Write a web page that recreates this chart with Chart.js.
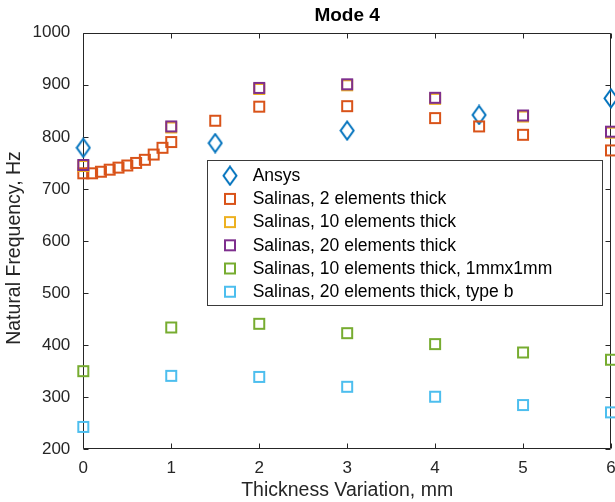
<!DOCTYPE html>
<html>
<head>
<meta charset="utf-8">
<script src="https://cdn.jsdelivr.net/npm/chart.js@4.4.1/dist/chart.umd.min.js"></script>
<style>
  html, body { margin: 0; padding: 0; background: #fff; }
  canvas { display: block; }
</style>
</head>
<body>
<canvas id="c" width="615" height="502"></canvas>
<script>
// ---- data ----
const titleText = 'Mode 4';
const xLabel = 'Thickness Variation, mm';
const yLabel = 'Natural Frequency, Hz';

const seriesLabels = [
  'Ansys',
  'Salinas, 2 elements thick',
  'Salinas, 10 elements thick',
  'Salinas, 20 elements thick',
  'Salinas, 10 elements thick, 1mmx1mm',
  'Salinas, 20 elements thick, type b'
];

const ansysX = [0, 1.5, 3, 4.5, 6];
const ansysY = [779, 788, 812, 842, 874];

const sal2X = [0, 0.1, 0.2, 0.3, 0.4, 0.5, 0.6, 0.7, 0.8, 0.9, 1, 1.5, 2, 3, 4, 4.5, 5, 6];
const sal2Y = [730, 730, 733, 737, 741, 745, 750, 756, 766, 779, 790, 831, 858, 859, 836, 820, 804, 774];

const sal10X = [0, 1, 2, 3, 4, 5, 6];
const sal10Y = [744, 818, 892, 899, 873, 839, 808];

const sal20X = [0, 1, 2, 3, 4, 5, 6];
const sal20Y = [746, 820, 894, 901, 875, 841, 810];

const sal10mmX = [0, 1, 2, 3, 4, 5, 6];
const sal10mmY = [350, 434, 441, 423, 402, 386, 372];

const sal20bX = [0, 1, 2, 3, 4, 5, 6];
const sal20bY = [243, 341, 339, 320, 301, 285, 271];

const xTicks = [0, 1, 2, 3, 4, 5, 6];
const xTickLabels = ['0', '1', '2', '3', '4', '5', '6'];
const yTicks = [200, 300, 400, 500, 600, 700, 800, 900, 1000];
const yTickLabels = ['200', '300', '400', '500', '600', '700', '800', '900', '1000'];

// ---- styling ----
const FONT = '"Liberation Sans", Arial, Helvetica, sans-serif';
const AXIS_COLOR = '#262626';
const colors = ['#0072BD', '#D95319', '#EDB120', '#7E2F8E', '#77AC30', '#4DBEEE'];

function squareMarker(color) {
  const c = document.createElement('canvas');
  c.width = 14; c.height = 14;
  const g = c.getContext('2d');
  g.strokeStyle = color; g.lineWidth = 2;
  g.strokeRect(2, 2, 10, 10);
  return c;
}
function diamondMarker(color) {
  const c = document.createElement('canvas');
  c.width = 16; c.height = 21;
  const g = c.getContext('2d');
  g.strokeStyle = color; g.lineWidth = 2; g.lineJoin = 'miter';
  g.beginPath();
  g.moveTo(8, 1.5); g.lineTo(14.5, 10.5); g.lineTo(8, 19.5); g.lineTo(1.5, 10.5);
  g.closePath(); g.stroke();
  return c;
}

const pairs = (xs, ys) => xs.map((x, i) => ({x, y: ys[i]}));
const seriesData = [
  pairs(ansysX, ansysY),
  pairs(sal2X, sal2Y),
  pairs(sal10X, sal10Y),
  pairs(sal20X, sal20Y),
  pairs(sal10mmX, sal10mmY),
  pairs(sal20bX, sal20bY)
];

const datasets = seriesData.map((d, i) => ({
  label: seriesLabels[i],
  data: d,
  pointStyle: i === 0 ? diamondMarker(colors[i]) : squareMarker(colors[i]),
  pointRadius: 7,
  borderColor: colors[i],
  backgroundColor: colors[i],
  showLine: false,
  clip: false,
  order: seriesData.length - i   // later series drawn on top, like the original
}));

// Box, inward ticks on all four sides
const boxPlugin = {
  id: 'box',
  beforeDatasetsDraw(chart) {
    const {ctx, chartArea: a, scales: {x, y}} = chart;
    ctx.save();
    ctx.strokeStyle = AXIS_COLOR;
    ctx.lineWidth = 1;
    const L = Math.round(a.left) + 0.5, R = Math.round(a.right) - 0.5;
    const T = Math.round(a.top) + 0.5, B = Math.round(a.bottom) - 0.5;
    ctx.beginPath();
    ctx.rect(L, T, R - L, B - T);
    const tl = 5;
    xTicks.forEach(v => {
      const px = Math.round(x.getPixelForValue(v)) + 0.5;
      ctx.moveTo(px, B); ctx.lineTo(px, B - tl);
      ctx.moveTo(px, T); ctx.lineTo(px, T + tl);
    });
    yTicks.forEach(v => {
      const py = Math.round(y.getPixelForValue(v)) + 0.5;
      ctx.moveTo(L, py); ctx.lineTo(L + tl, py);
      ctx.moveTo(R, py); ctx.lineTo(R - tl, py);
    });
    ctx.stroke();

    // axis labels
    ctx.fillStyle = AXIS_COLOR;
    ctx.font = '19.5px ' + FONT;
    ctx.textAlign = 'center';
    ctx.textBaseline = 'middle';
    ctx.fillText(xLabel, (a.left + a.right) / 2, 490.5);
    ctx.translate(15, 248);
    ctx.rotate(-Math.PI / 2);
    ctx.fillText(yLabel, 0, 0);
    ctx.restore();
  }
};

// Legend box inside the plot area
const legendPlugin = {
  id: 'innerLegend',
  afterDatasetsDraw(chart) {
    const {ctx} = chart;
    const left = 207.5, right = 602.5, top = 160.5, bottom = 305.5;
    ctx.save();
    ctx.fillStyle = '#fff';
    ctx.fillRect(left, top, right - left, bottom - top);
    ctx.strokeStyle = '#3a3a3a';
    ctx.lineWidth = 1;
    ctx.strokeRect(left, top, right - left, bottom - top);
    ctx.font = '17.5px ' + FONT;
    ctx.textBaseline = 'middle';
    ctx.textAlign = 'left';
    ctx.fillStyle = '#000';
    chart.data.datasets.forEach((ds, i) => {
      const cy = 175.7 + i * 23.2;
      const img = ds.pointStyle;
      ctx.drawImage(img, 230 - img.width / 2, cy - img.height / 2);
      ctx.fillText(ds.label, 252.7, cy + 0.5);
    });
    ctx.restore();
  }
};

new Chart(document.getElementById('c'), {
  type: 'scatter',
  data: { datasets },
  options: {
    responsive: false,
    animation: false,
    devicePixelRatio: 1,
    layout: { autoPadding: false, padding: { left: 0, right: 4, top: 0, bottom: 0 } },
    plugins: {
      legend: { display: false },
      tooltip: { enabled: false },
      title: {
        display: true, text: titleText, color: '#000', fullSize: false,
        font: { family: FONT, size: 19, weight: 'bold' },
        padding: { top: 4, bottom: 5.9 }
      }
    },
    scales: {
      x: {
        type: 'linear', min: 0, max: 6,
        afterBuildTicks(s) { s.ticks = xTicks.map(v => ({value: v})); },
        ticks: { padding: 9, color: AXIS_COLOR, font: { family: FONT, size: 17 }, maxRotation: 0,
                 callback: (v, i) => xTickLabels[i] },
        grid: { display: false, drawTicks: false },
        border: { display: false },
        title: { display: false },
        afterFit(s) { s.height = 52.7; s.paddingLeft = 0; s.paddingRight = 0; }
      },
      y: {
        type: 'linear', min: 200, max: 1000,
        afterBuildTicks(s) { s.ticks = yTicks.map(v => ({value: v})); },
        ticks: { padding: 13, color: AXIS_COLOR, font: { family: FONT, size: 17 },
                 callback: (v, i) => yTickLabels[i] },
        grid: { display: false, drawTicks: false },
        border: { display: false },
        title: { display: false },
        afterFit(s) { s.width = 83.3; s.paddingTop = 0; s.paddingBottom = 0; }
      }
    }
  },
  plugins: [boxPlugin, legendPlugin]
});
</script>
</body>
</html>
